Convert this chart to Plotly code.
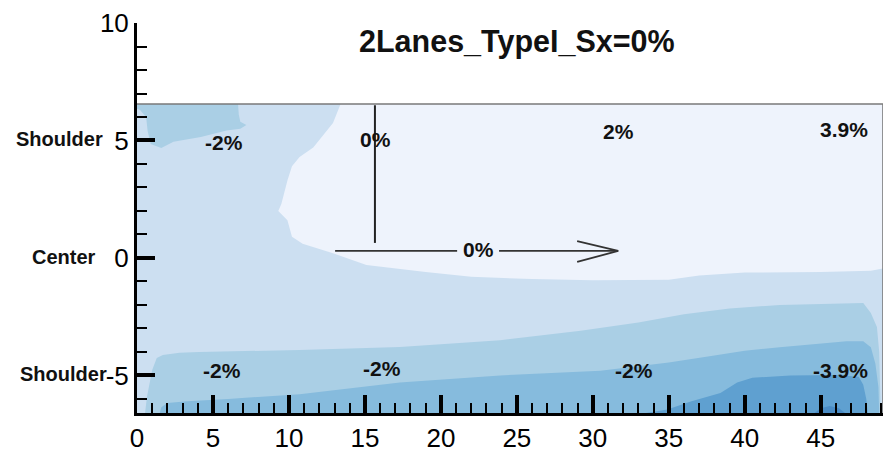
import plotly.graph_objects as go

# ---- domain of the surface ----
X_MAX = 49.1
Y_TOP = 6.55
Y_BOT = -6.6

# ---- band fills (light -> dark) ----
band_colors = ["#EEF3FC", "#CCDFF1", "#AACFE5", "#86BBDD", "#5FA0D0", "#4A8BC4"]

# lightest zone (upper right)
zone0_x = [13.4, 49.1, 49.1, 48.3, 45.0, 40.0, 37.0, 35.0, 30.0, 26.0, 22.0, 19.0, 15.1,
           12.9, 10.9, 10.2, 9.9, 9.3, 9.5, 9.9, 10.2, 10.7, 11.6, 12.9, 13.4]
zone0_y = [6.55, 6.55, -0.45, -0.55, -0.6, -0.62, -0.75, -0.93, -0.95, -0.9, -0.8, -0.6, -0.3,
           0.2, 0.6, 0.9, 1.6, 2.0, 2.3, 3.3, 3.9, 4.3, 4.7, 5.74, 6.55]

# upper-left patch of the second band
zone2a_x = [0, 6.65, 6.7, 6.8, 7.2, 6.8, 5.9, 4.2, 2.4, 1.6, 0.9, 0.7, 0.6, 0.2, 0]
zone2a_y = [6.55, 6.55, 6.1, 5.8, 5.66, 5.5, 5.42, 5.15, 4.95, 4.68, 4.85, 5.4, 6.0, 6.3, 6.35]

# lower bands: upper edge of each, closed along the bottom
zone2b_x = [0.53, 0.66, 1.0, 1.3, 1.7, 2.8, 4.1, 10.7, 17.3, 23.9, 29.2, 33.0, 36.0, 39.0,
            42.3, 45.0, 47.8, 48.3, 48.7, 48.85, 48.95]
zone2b_y = [-6.6, -5.9, -4.77, -4.26, -4.13, -4.04, -4.0, -3.92, -3.79, -3.5, -3.1, -2.75, -2.4,
            -2.15, -2.0, -1.95, -1.92, -2.34, -2.94, -4.0, -6.6]

zone3_x = [1.5, 1.6, 2.0, 3.3, 6.0, 10.7, 17.3, 23.9, 30.5, 35.0, 38.0, 40.0, 42.3, 46.7,
           47.8, 48.3, 48.6, 48.8, 48.85]
zone3_y = [-6.6, -6.35, -6.17, -6.1, -6.0, -5.8, -5.3, -5.0, -4.8, -4.45, -4.15, -3.95, -3.8,
           -3.55, -3.55, -3.8, -4.5, -5.5, -6.6]

zone4_x = [33.5, 34.9, 36.5, 38.4, 39.5, 40.5, 43.0, 46.0, 47.5, 47.8, 48.0, 48.1]
zone4_y = [-6.6, -6.45, -6.1, -5.75, -5.3, -5.1, -5.0, -4.98, -5.06, -5.4, -6.0, -6.6]

zone5_x = [44.6, 45.0, 45.6, 46.2, 46.6]
zone5_y = [-6.6, -6.4, -6.3, -6.4, -6.6]

# ---- slope labels ----
label_text = ["-2%", "0%", "2%", "3.9%", "-2%", "-2%", "-2%", "-3.9%"]
label_x = [5.7, 15.73, 31.67, 46.5, 5.6, 16.13, 32.7, 46.3]
label_y = [4.9, 5.06, 5.4, 5.45, -4.8, -4.72, -4.77, -4.8]

# ---- direction marker (vertical stem + horizontal arrow) ----
stem_x = [15.66, 15.66]
stem_y = [6.5, 0.64]
shaft_left = [13.04, 21.07]
shaft_right = [23.83, 31.67]
shaft_y = 0.30
head_back_x = 28.97
head_up_y = 0.72
head_dn_y = -0.17
arrow_label = "0%"
arrow_label_x = 22.45
arrow_label_y = 0.34

# ---- axis ticks ----
x_ticks = [0, 5, 10, 15, 20, 25, 30, 35, 40, 45]
y_ticks = [-5, 0, 5, 10]
y_tick_text = ["-5", "0", "5", "10"]
side_words = ["Shoulder", "Center", "Shoulder"]
side_word_y = [5, 0, -5]
side_word_shift = [-32, -39, -28]

FONT = "Arial, Liberation Sans, sans-serif"

fig = go.Figure()


def band(xs, ys, color):
    fig.add_trace(go.Scatter(x=xs, y=ys, mode="lines", fill="toself", fillcolor=color,
                             line=dict(width=0, color=color), hoverinfo="skip",
                             showlegend=False))


# base band over the whole surface
band([0, X_MAX, X_MAX, 0, 0], [Y_BOT, Y_BOT, Y_TOP, Y_TOP, Y_BOT], band_colors[1])
band(zone0_x, zone0_y, band_colors[0])
band(zone2a_x, zone2a_y, band_colors[2])
band(zone2b_x + [zone2b_x[0]], zone2b_y + [zone2b_y[0]], band_colors[2])
band(zone3_x + [zone3_x[0]], zone3_y + [zone3_y[0]], band_colors[3])
band(zone4_x + [zone4_x[0]], zone4_y + [zone4_y[0]], band_colors[4])
band(zone5_x + [zone5_x[0]], zone5_y + [zone5_y[0]], band_colors[5])

# thin frame on top and right of the surface
fig.add_trace(go.Scatter(x=[0, X_MAX, X_MAX], y=[Y_TOP, Y_TOP, Y_BOT], mode="lines",
                         line=dict(color="#7a7a7a", width=1.6), hoverinfo="skip",
                         showlegend=False))

# vertical stem
fig.add_trace(go.Scatter(x=stem_x, y=stem_y, mode="lines",
                         line=dict(color="#222222", width=2), hoverinfo="skip",
                         showlegend=False))
# horizontal arrow with open head
arrow_x = shaft_left + [None] + shaft_right + [None] + \
    [head_back_x, shaft_right[1], head_back_x]
arrow_y = [shaft_y, shaft_y, None, shaft_y, shaft_y, None, head_up_y, shaft_y, head_dn_y]
fig.add_trace(go.Scatter(x=arrow_x, y=arrow_y, mode="lines",
                         line=dict(color="#333333", width=1.8), hoverinfo="skip",
                         showlegend=False))

annotations = []
for t, x, y in zip(label_text, label_x, label_y):
    annotations.append(dict(x=x, y=y, xref="x", yref="y", text="<b>" + t + "</b>",
                            showarrow=False,
                            font=dict(family=FONT, size=21, color="#111111"),
                            xanchor="center", yanchor="middle"))
annotations.append(dict(x=arrow_label_x, y=arrow_label_y, xref="x", yref="y",
                        text="<b>" + arrow_label + "</b>", showarrow=False,
                        font=dict(family=FONT, size=21, color="#111111"),
                        xanchor="center", yanchor="middle"))
for w, y, s in zip(side_words, side_word_y, side_word_shift):
    annotations.append(dict(x=0, y=y, xref="paper", yref="y", text="<b>" + w + "</b>",
                            showarrow=False, xanchor="right", yanchor="middle", xshift=s,
                            yshift=1, font=dict(family=FONT, size=20, color="#111111")))
annotations.append(dict(x=0.509, y=0.953, xref="paper", yref="paper",
                        text="<b>2Lanes_TypeI_Sx=0%</b>", showarrow=False,
                        xanchor="center", yanchor="middle",
                        font=dict(family=FONT, size=30.5, color="#111111")))

fig.update_layout(
    width=888, height=458,
    margin=dict(l=137, r=5, t=23, b=45),
    paper_bgcolor="white", plot_bgcolor="white",
    showlegend=False,
    annotations=annotations,
    xaxis=dict(range=[0, X_MAX], tickvals=x_ticks, ticks="inside", ticklen=18, tickwidth=3.5,
               tickcolor="black", showline=True, linecolor="black", linewidth=3,
               showgrid=False, zeroline=False,
               tickfont=dict(family=FONT, size=26, color="black"),
               minor=dict(dtick=1, ticks="inside", ticklen=10, tickwidth=1.6,
                          tickcolor="black", showgrid=False)),
    yaxis=dict(range=[Y_BOT, 10.001], tickvals=y_ticks, ticktext=y_tick_text, ticks="inside",
               ticklen=18, tickwidth=3.5, tickcolor="black", showline=True,
               linecolor="black", linewidth=3, showgrid=False, zeroline=False,
               tickfont=dict(family=FONT, size=26, color="black"),
               minor=dict(dtick=1, ticks="inside", ticklen=10, tickwidth=1.6,
                          tickcolor="black", showgrid=False)),
)

fig.write_html("out.html")
